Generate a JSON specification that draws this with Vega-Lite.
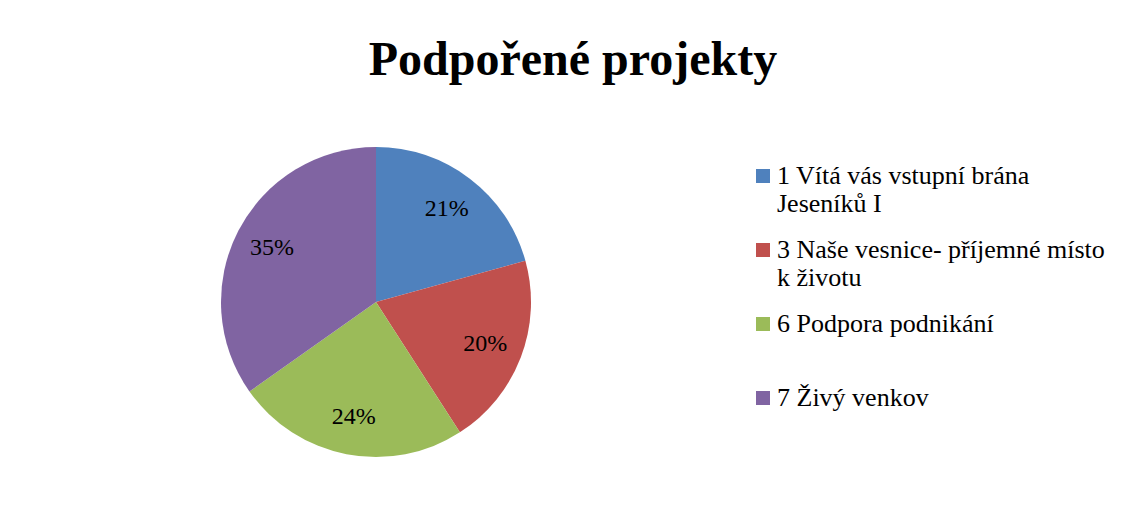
{
  "$schema": "https://vega.github.io/schema/vega-lite/v6.json",
  "autosize": {"type": "none"},
  "width": 310,
  "height": 310,
  "padding": {"left": 221, "top": 147, "right": 594, "bottom": 48},
  "background": "white",
  "config": {"view": {"stroke": null}, "font": "Liberation Serif"},
  "title": {
    "text": "Podpořené projekty",
    "font": "Liberation Serif",
    "fontSize": 48,
    "fontWeight": "bold",
    "color": "black",
    "anchor": "middle",
    "frame": "group",
    "dx": 197,
    "offset": 62
  },
  "data": {
    "values": [
      {"projekt": "1 Vítá vás vstupní brána Jeseníků I", "podil": 0.207},
      {"projekt": "3 Naše vesnice- příjemné místo k životu", "podil": 0.202},
      {"projekt": "6 Podpora podnikání", "podil": 0.243},
      {"projekt": "7 Živý venkov", "podil": 0.348}
    ]
  },
  "encoding": {
    "theta": {"field": "podil", "type": "quantitative", "stack": true},
    "order": {"field": "projekt", "type": "nominal", "sort": "ascending"}
  },
  "layer": [
    {
      "mark": {"type": "arc", "stroke": null},
      "encoding": {
        "color": {
          "field": "projekt",
          "type": "nominal",
          "scale": {
            "domain": ["1 Vítá vás vstupní brána Jeseníků I", "3 Naše vesnice- příjemné místo k životu", "6 Podpora podnikání", "7 Živý venkov"],
            "range": ["#4F81BD", "#C0504D", "#9BBB59", "#8064A2"]
          },
          "legend": {
            "title": null,
            "orient": "none",
            "legendX": 529,
            "legendY": 16,
            "padding": 0,
            "symbolType": "square",
            "symbolSize": 196,
            "symbolStrokeWidth": 0,
            "labelFont": "Liberation Serif",
            "labelFontSize": 26,
            "labelColor": "black",
            "labelLimit": 400,
            "labelOffset": 1,
            "labelLineHeight": 29,
            "gridAlign": "all",
            "rowPadding": 20,
            "labelExpr": "datum.label == '1 Vítá vás vstupní brána Jeseníků I' ? ['1 Vítá vás vstupní brána', 'Jeseníků I'] : datum.label == '3 Naše vesnice- příjemné místo k životu' ? ['3 Naše vesnice- příjemné místo', 'k životu'] : datum.label",
            "encode": {
              "labels": {"update": {"dy": {"signal": "length(datum.label) > 25 ? 14.5 : 0"}}}
            }
          }
        }
      }
    },
    {
      "mark": {"type": "text", "radius": 117, "font": "Liberation Serif", "fontSize": 24, "fill": "black"},
      "encoding": {
        "text": {"field": "podil", "type": "quantitative", "format": ".0%"},
        "detail": {"field": "projekt", "type": "nominal"}
      }
    }
  ]
}
